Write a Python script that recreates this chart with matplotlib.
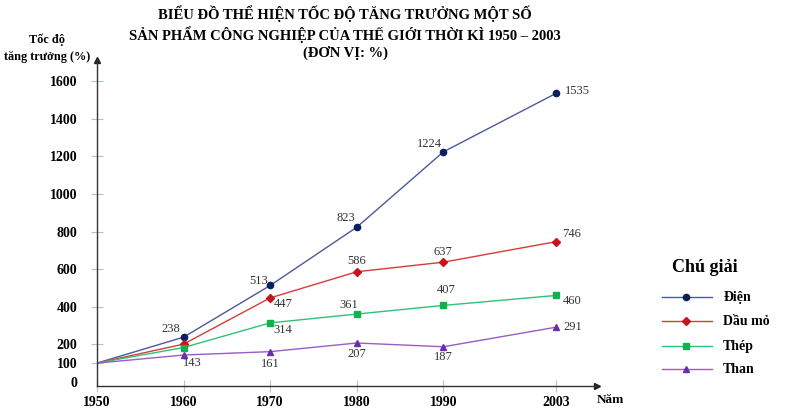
import numpy as np
import matplotlib.pyplot as plt
from matplotlib.lines import Line2D

# Dữ liệu tốc độ tăng trưởng (%)
years = [1950, 1960, 1970, 1980, 1990, 2003]
dien = [100, 238, 513, 823, 1224, 1535]
dau_mo = [100, 201, 447, 586, 637, 746]
thep = [100, 183, 314, 361, 407, 460]
than = [100, 143, 161, 207, 187, 291]
y_ticks = [0, 100, 200, 400, 600, 800, 1000, 1200, 1400, 1600]

plt.rcParams['font.family'] = ['Liberation Serif', 'DejaVu Serif']

fig = plt.figure(figsize=(8.01, 4.16), dpi=100)
ax = fig.add_axes([0.121, 0.072, 0.624, 0.784])

series = [
    ('Điện', dien, '#4a5a9c', '#0b1f5c', 'o', 4.5),
    ('Dầu mỏ', dau_mo, '#d83a3a', '#c8141e', 'D', 4.5),
    ('Thép', thep, '#2fc27a', '#13b050', 's', 4.5),
    ('Than', than, '#9a5cc8', '#6a2fa8', '^', 5),
]
for name, vals, lc, mc, mk, ms in series:
    ax.plot(years, vals, color=lc, lw=1, zorder=2)
    ax.plot(years[1:], vals[1:], ls='none', marker=mk, ms=ms,
            color=mc, zorder=3)

# Vị trí nhãn số liệu (offset theo điểm ảnh)
offsets = {
    'Điện': [None, (-13, 8), (-12, 4), (-11, 9), (-14, 8), (21, 2)],
    'Dầu mỏ': [None, None, (13, -6), (0, 11), (0, 10), (16, 8)],
    'Thép': [None, None, (13, -7), (-8, 9), (3, 15), (16, -6)],
    'Than': [None, (9, -8), (0, -12), (0, -11), (0, -10), (17, 0)],
}
for name, vals, lc, mc, mk, ms in series:
    for x, v, off in zip(years, vals, offsets[name]):
        if off is None:
            continue
        ax.annotate(str(v), (x, v), xytext=(off[0] * 0.72, off[1] * 0.72),
                    textcoords='offset points', ha='center', va='center',
                    fontsize=9, color='#333333')

ax.set_xlim(1950, 2007.7)
ax.set_ylim(-22, 1713)
ax.set_xticks(years)
ax.set_yticks(y_ticks)
ax.set_xticklabels([str(y) for y in years], fontsize=10, fontweight='bold')
ax.set_yticklabels([str(t) for t in y_ticks], fontsize=10, fontweight='bold')
ax.tick_params(axis='y', direction='inout', length=8, color='#a8c4dc', pad=10)
ax.tick_params(axis='x', direction='inout', length=8, color='#a8c4dc', pad=3)
ax.get_yticklines()[0].set_visible(False)
ax.get_yticklines()[1].set_visible(False)
for s in ['top', 'right']:
    ax.spines[s].set_visible(False)
for s in ['left', 'bottom']:
    ax.spines[s].set_color('#333333')
    ax.spines[s].set_linewidth(1)
ax.plot(1, 0, '>', color='#222222', ms=5, transform=ax.transAxes, clip_on=False)
ax.plot(0, 1, '^', color='#222222', ms=5, transform=ax.transAxes, clip_on=False)

fig.text(0.059, 0.884, 'Tốc độ\ntăng trưởng (%)', ha='center', va='center',
         fontsize=8.8, fontweight='bold', linespacing=1.5)
fig.text(0.762, 0.038, 'Năm', ha='center', va='center', fontsize=9.5,
         fontweight='bold')

title = ('BIỂU ĐỒ THỂ HIỆN TỐC ĐỘ TĂNG TRƯỞNG MỘT SỐ\n'
         'SẢN PHẨM CÔNG NGHIỆP CỦA THẾ GIỚI THỜI KÌ 1950 – 2003\n'
         '(ĐƠN VỊ: %)')
fig.text(0.431, 0.922, title, ha='center', va='center', fontsize=10.5,
         fontweight='bold', linespacing=1.3)

# Chú giải
fig.text(0.88, 0.358, 'Chú giải', ha='center', va='center', fontsize=13,
         fontweight='bold')
ys = [0.286, 0.228, 0.168, 0.112]
for (name, vals, lc, mc, mk, ms), yy in zip(series, ys):
    fig.add_artist(Line2D([0.826, 0.889], [yy, yy], color=lc, lw=1))
    fig.add_artist(Line2D([0.857], [yy], marker=mk, ms=ms, color=mc))
    fig.text(0.903, yy, name, ha='left', va='center', fontsize=10,
             fontweight='bold')

fig.savefig('out.png', dpi=100)
